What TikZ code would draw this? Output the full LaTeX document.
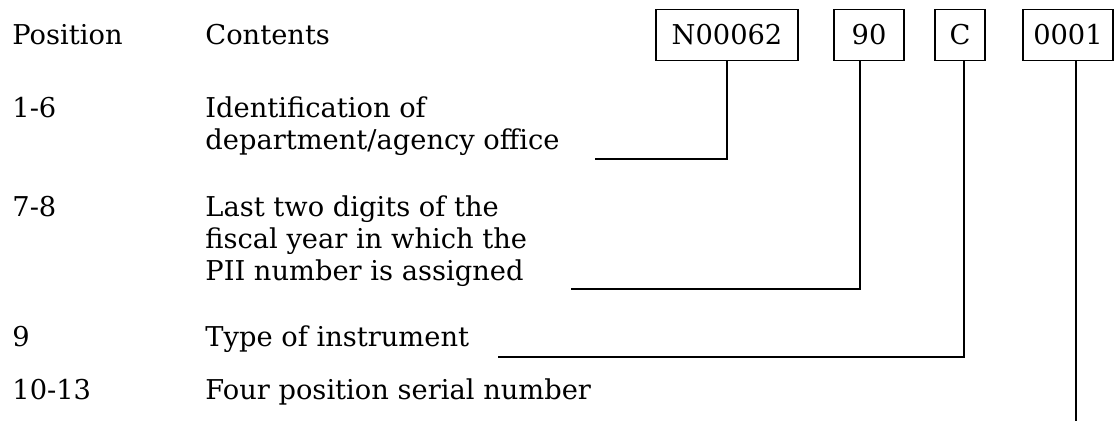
\documentclass[tikz,border=0pt]{standalone}
\usepackage{fontspec}
\setmainfont{DejaVu Serif}
\usepackage{tikz}
\usetikzlibrary{calc}

\begin{document}
\begin{tikzpicture}
  \tikzset{
    box/.style={draw, rectangle, line width=0.7pt, inner xsep=0pt, inner ysep=7.75pt, text height=10pt, text depth=0pt, node distance=2cm},
    lbl/.style={anchor=base west, inner sep=0pt},
    txt/.style={anchor=base west, inner sep=0pt, align=left},
    line/.style={draw, line width=0.8pt},
  }
  \fontsize{13.65pt}{16pt}\selectfont
  \useasboundingbox (0,0) rectangle (557.5pt,-210.5pt);

  % column heads
  \node [lbl] (pos) at (6pt,-22.5pt) {Position};
  \node [lbl] (cont) at (102.5pt,-22.5pt) {Contents};

  % the number
  \node [box, minimum width=71pt] (agency) at (363.5pt,-17.5pt) {N00062};
  \node [box, minimum width=35pt, right of=agency, node distance=71pt] (year) {90};
  \node [box, minimum width=25pt, right of=year, node distance=45.5pt] (type) {C};
  \node [box, minimum width=45pt, right of=type, node distance=54pt] (serial) {0001};

  % rows (base of a multi-line node is its last line)
  \node [lbl] (p1) at (6pt,-59pt) {1-6};
  \node [txt] (c1) at (102.5pt,-75pt) {Identification of\\department/agency office};
  \node [lbl] (p2) at (6pt,-108.5pt) {7-8};
  \node [txt] (c2) at (102.5pt,-140.5pt) {Last two digits of the\\fiscal year in which the\\PII number is assigned};
  \node [lbl] (p3) at (6pt,-173.5pt) {9};
  \node [txt] (c3) at (102.5pt,-173.5pt) {Type of instrument};
  \node [lbl] (p4) at (6pt,-200pt) {10-13};
  \node [txt] (c4) at (102.5pt,-200pt) {Four position serial number};

  \coordinate (e1) at (297.5pt,-79.5pt);
  \coordinate (e2) at (285.5pt,-144.5pt);
  \coordinate (e3) at (249pt,-178.5pt);
  \coordinate (e4) at (538pt,-210.5pt);

  \path [line] (agency.south) |- (e1);
  \path [line] ([xshift=-4.5pt]year.south) |- (e2);
  \path [line] ([xshift=2pt]type.south) |- (e3);
  \path [line] (serial.south -| e4) -- (e4);

\end{tikzpicture}
\end{document}
